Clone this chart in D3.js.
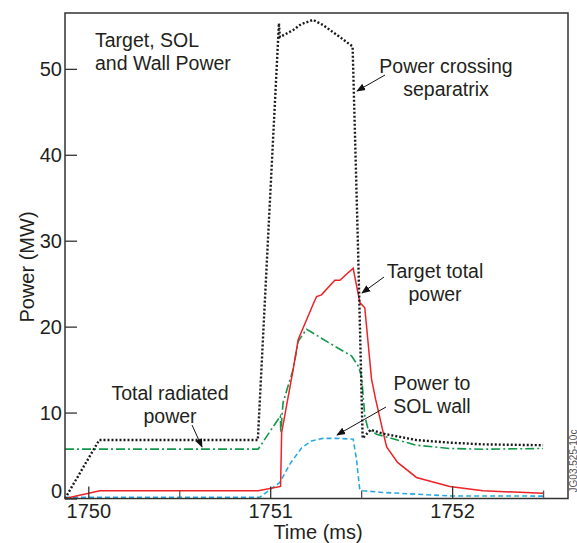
<!DOCTYPE html>
<html>
<head>
<meta charset="utf-8">
<script src="https://cdn.jsdelivr.net/npm/d3@7"></script>
<style>
    body { margin: 0; background: #fff; }
    svg text { font-family: "Liberation Sans", Arial, sans-serif; fill: #231f20; }
</style>
</head>
<body>
<div id="chart"></div>
<script>
// time in ms, power in MW
var sep_t = [1749.872, 1750.06, 1750.932, 1751.048, 1751.053, 1751.125, 1751.17, 1751.236, 1751.29, 1751.383, 1751.453, 1751.483, 1751.508, 1751.552, 1751.621, 1751.804, 1751.987, 1752.169, 1752.5];
var sep_p = [0, 6.8, 6.8, 55.3, 53.7, 54.5, 55.2, 55.7, 55.1, 53.7, 52.6, 29, 7.0, 8.0, 7.55, 6.8, 6.5, 6.3, 6.2];

var rad_t = [1749.872, 1750.934, 1751.056, 1751.058, 1751.071, 1751.126, 1751.154, 1751.2, 1751.356, 1751.447, 1751.484, 1751.502, 1751.52, 1751.538, 1751.585, 1751.804, 1751.987, 1752.17, 1752.5];
var rad_p = [5.75, 5.75, 9.6, 7.7, 11.2, 15.0, 18.3, 19.7, 17.7, 16.6, 15.4, 14.25, 9.6, 8.06, 7.48, 6.2, 5.82, 5.74, 5.82];

var tgt_t = [1749.872, 1750.064, 1750.934, 1751.057, 1751.063, 1751.068, 1751.126, 1751.154, 1751.2, 1751.236, 1751.255, 1751.282, 1751.355, 1751.383, 1751.456, 1751.493, 1751.52, 1751.557, 1751.58, 1751.621, 1751.64, 1751.70, 1751.804, 1751.987, 1752.17, 1752.5];
var tgt_p = [0, 0.9, 0.9, 1.4, 7.7, 8.26, 15.0, 18.5, 20.8, 22.6, 23.5, 23.7, 25.4, 25.4, 26.8, 22.8, 22.2, 13.9, 11.5, 7.7, 6.0, 4.2, 2.45, 1.4, 0.9, 0.6];

var wall_t = [1749.872, 1750.943, 1751.053, 1751.108, 1751.173, 1751.227, 1751.29, 1751.365, 1751.456, 1751.474, 1751.492, 1751.511, 1751.62, 1751.987, 1752.5];
var wall_p = [0.15, 0.15, 1.87, 4.0, 5.9, 6.7, 7.0, 7.0, 6.9, 4.6, 1.1, 0.9, 0.7, 0.3, 0.28];

var x_major = [1750, 1751, 1752];
var x_minor = [1750.5, 1751.5, 1752.5];
var y_ticks = [0, 10, 20, 30, 40, 50];

var width = 577, height = 543;
var left = 65, right = 568, top_y = 13, bottom = 498.5;

var svg = d3.select("#chart").append("svg")
	.attr("width", width)
	.attr("height", height);

var x = d3.scaleLinear().domain([1749.872, 1752.637]).range([left, right]);
var y = d3.scaleLinear().domain([0, 56.5]).range([bottom, top_y]);

svg.append("defs").append("marker")
	.attr("id", "head")
	.attr("viewBox", "0 0 10 10")
	.attr("refX", 9).attr("refY", 5)
	.attr("markerWidth", 9).attr("markerHeight", 9)
	.attr("markerUnits", "userSpaceOnUse")
	.attr("orient", "auto")
	.append("path")
	.attr("d", "M0,1 L10,5 L0,9 Z")
	.style("fill", "#111");

function zip(ts, ps) {
    return ts.map(function (t, i) { return {t: t, p: ps[i]}; });
}

var line = d3.line().x(d => x(d.t)).y(d => y(d.p));

function add_series(ts, ps, color, w, dash) {
    svg.append("path")
	    .datum(zip(ts, ps))
	    .attr("d", line)
	    .style("fill", "none")
	    .style("stroke", color)
	    .style("stroke-width", w)
	    .style("stroke-dasharray", dash);
}

add_series(wall_t, wall_p, "#29a9e1", 1.6, "5,3");
add_series(rad_t, rad_p, "#13984a", 1.6, "9,3,2,3");
add_series(tgt_t, tgt_p, "#ec2227", 1.5, null);
add_series(sep_t, sep_p, "#1a1a1a", 2.4, "2,2");

// frame
svg.append("rect")
	.attr("x", left).attr("y", top_y)
	.attr("width", right - left).attr("height", bottom - top_y)
	.style("fill", "none")
	.style("stroke", "#333")
	.style("stroke-width", 1.5);

var y_axis = d3.axisLeft(y).tickValues(y_ticks).tickSizeInner(-12).tickSizeOuter(0).tickPadding(3);
var gy = svg.append("g").attr("transform", "translate(" + left + ",0)").call(y_axis);
gy.select(".domain").remove();
gy.selectAll("text").style("font-size", "20px").attr("dy", function (d) { return d === 0 ? "-0.05em" : "0.35em"; });
gy.selectAll("line").style("stroke", "#333").style("stroke-width", 1.3);

var x_axis = d3.axisBottom(x).tickValues(x_major).tickFormat(d3.format("d")).tickSizeInner(-12).tickSizeOuter(0).tickPadding(5);
var gx = svg.append("g").attr("transform", "translate(0," + bottom + ")").call(x_axis);
gx.select(".domain").remove();
gx.selectAll("text").style("font-size", "20px");
gx.selectAll("line").style("stroke", "#333").style("stroke-width", 1.3);

var x_axis_minor = d3.axisBottom(x).tickValues(x_minor).tickFormat("").tickSizeInner(-8).tickSizeOuter(0);
var gxm = svg.append("g").attr("transform", "translate(0," + bottom + ")").call(x_axis_minor);
gxm.select(".domain").remove();
gxm.selectAll("line").style("stroke", "#555").style("stroke-width", 1.3);

svg.append("text")
	.attr("x", 318).attr("y", 539)
	.attr("text-anchor", "middle")
	.style("font-size", "20px")
	.text("Time (ms)");

svg.append("text")
	.attr("transform", "translate(34,267) rotate(-90)")
	.attr("text-anchor", "middle")
	.style("font-size", "20px")
	.text("Power (MW)");

// figure id, squeezed in right of the frame
svg.append("text")
	.attr("transform", "translate(576.5,461) rotate(-90)")
	.attr("text-anchor", "middle")
	.style("font-size", "10px")
	.style("fill", "#555")
	.text("JG03.525-10c");

function add_label(lines, cx, cy, anchor) {
    var t = svg.append("text")
	    .attr("text-anchor", anchor)
	    .style("font-size", "19.5px");
    lines.forEach(function (s, i) {
	t.append("tspan").attr("x", cx).attr("y", cy + i * 22.5).text(s);
    });
}

function add_arrow(x1, y1, x2, y2) {
    svg.append("line")
	    .attr("x1", x1).attr("y1", y1)
	    .attr("x2", x2).attr("y2", y2)
	    .style("stroke", "#111")
	    .style("stroke-width", 1)
	    .attr("marker-end", "url(#head)");
}

add_label(["Target, SOL", "and Wall Power"], 95, 47, "start");
add_label(["Power crossing", "separatrix"], 446, 73, "middle");
add_label(["Target total", "power"], 435, 278, "middle");
add_label(["Total radiated", "power"], 170, 400, "middle");
add_label(["Power to", "SOL wall"], 432, 390, "middle");

add_arrow(385, 75, 357, 91);
add_arrow(384, 277, 362, 293);
add_arrow(192, 425, 202, 447);
add_arrow(386, 407, 337, 435);
</script>
</body>
</html>
